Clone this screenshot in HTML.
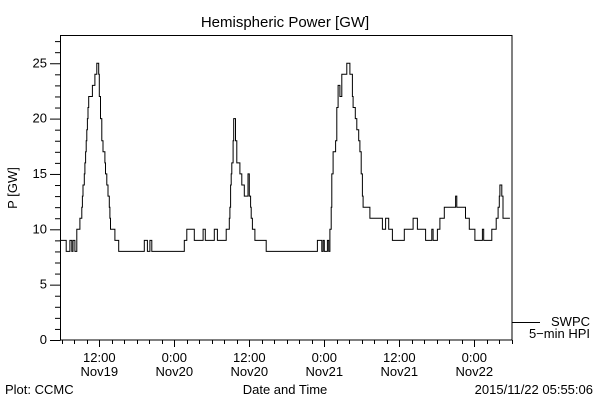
<!DOCTYPE html>
<html><head><meta charset="utf-8"><style>
html,body{margin:0;padding:0;background:#fff;}
svg{display:block;font-family:"Liberation Sans","DejaVu Sans",sans-serif;}
</style></head><body>
<svg id="chart" width="600" height="400" viewBox="0 0 600 400" xmlns="http://www.w3.org/2000/svg">
<rect x="0" y="0" width="600" height="400" fill="#fff"/>
<text x="285" y="27" font-size="15" text-anchor="middle" fill="#000">Hemispheric Power [GW]</text>
<text transform="translate(17,188) rotate(-90)" font-size="13" text-anchor="middle" fill="#000">P [GW]</text>
<g id="yticks"></g>
<g id="xticks"></g>
<rect x="60.5" y="35.5" width="451.5" height="304.5" fill="none" stroke="#000" stroke-width="1"/>
<path id="series" fill="none" stroke="#000" stroke-width="1"/>
<line x1="512" y1="322.5" x2="540" y2="322.5" stroke="#000" stroke-width="1"/>
<text x="590" y="326" font-size="13" text-anchor="end" fill="#000">SWPC</text>
<text x="590" y="338" font-size="13" text-anchor="end" fill="#000">5−min HPI</text>
<text x="285" y="394" font-size="13" text-anchor="middle" fill="#000">Date and Time</text>
<text x="5" y="394" font-size="13" fill="#000">Plot: CCMC</text>
<text x="593" y="394" font-size="13" text-anchor="end" fill="#000">2015/11/22 05:55:06</text>
</svg>
<script>
// hours since Nov19 00:00 (step starts) and power values [GW]
var times = [5.7,6.7,7.3,7.6,7.8,8.1,8.4,8.9,9.2,9.3,9.4,9.6,9.7,9.8,9.9,10.0,10.1,10.2,10.3,10.9,11.3,11.6,11.9,12.0,12.2,12.4,12.6,12.9,13.0,13.2,13.4,13.6,13.7,13.8,14.5,15.1,19.2,19.7,20.1,20.4,25.6,26.0,27.2,28.6,28.96,30.4,30.9,32.3,32.8,32.9,33.0,33.1,33.2,33.4,33.5,33.8,34.0,34.5,34.8,35.2,35.8,36.0,36.2,36.3,36.5,36.9,38.7,46.9,47.6,47.8,48.0,48.5,48.7,48.9,49.1,49.2,49.4,49.8,50.0,50.2,50.5,50.8,51.6,52.1,52.5,52.6,52.96,53.2,53.5,53.7,53.9,54.1,54.2,55.3,57.3,57.8,58.3,58.9,60.8,62.2,62.9,64.2,65.2,65.4,66.1,66.5,67.2,69.0,69.2,70.6,71.2,72.1,73.3,73.5,74.8,75.5,75.8,76.0,76.1,76.4,76.6];
var values = [9,8,9,8,9,8,10,11,12,13,14,15,16,17,18,19,20,21,22,23,24,25,24,22,20,18,17,16,15,14,13,12,11,10,9,8,9,8,9,8,9,10,9,10,9,10,9,10,11,12,14,15,16,18,20,18,16,15,14,13,15,13,12,11,10,9,8,9,8,9,8,9,8,10,12,15,17,18,21,23,22,24,25,24,22,21,20,19,18,17,15,13,12,11,10,11,10,9,10,11,10,9,10,9,10,11,12,13,12,11,10,9,10,9,10,11,12,13,14,13,11];
var endTime = 77.7;
var yTickValues = [0,5,10,15,20,25];
var yTickLabels = ["0","5","10","15","20","25"];
var xMajorHours = [12,24,36,48,60,72];
var xTimeLabels = ["12:00","0:00","12:00","0:00","12:00","0:00"];
var xDateLabels = ["Nov19","Nov20","Nov20","Nov21","Nov21","Nov22"];

function xs(h){return 24.3 + h*6.25;}
function ys(v){return 340 - v*11.07;}
var NS="http://www.w3.org/2000/svg";
function mk(tag,attrs,parent){var e=document.createElementNS(NS,tag);for(var k in attrs)e.setAttribute(k,attrs[k]);parent.appendChild(e);return e;}

var yg=document.getElementById('yticks');
for(var v=0;v<=27;v++){
  var major=v%5===0;
  var t=mk('line',{x1:major?50:55,x2:60.5,y1:ys(v)+0.5,y2:ys(v)+0.5,stroke:'#000','stroke-width':1},yg);
  
  
}
for(var i=0;i<yTickValues.length;i++){
  var l=mk('text',{x:47,y:ys(yTickValues[i])+4,'font-size':13,'text-anchor':'end',fill:'#000'},yg);
  l.textContent=yTickLabels[i];
  
  
}
var xg=document.getElementById('xticks');
for(var h=6;h<=78;h+=2){
  var x=xs(h);
  if(x<60||x>512)continue;
  var mj=h%12===0;
  var t2=mk('line',{x1:Math.round(x)+0.5,x2:Math.round(x)+0.5,y1:340,y2:mj?347:344,stroke:'#000','stroke-width':1},xg);
  
  
}
for(var j=0;j<xMajorHours.length;j++){
  var xx=xs(xMajorHours[j]);
  var a=mk('text',{x:xx,y:362,'font-size':13,'text-anchor':'middle',fill:'#000'},xg);
  a.textContent=xTimeLabels[j];
  
  
  var b=mk('text',{x:xx,y:376,'font-size':13,'text-anchor':'middle',fill:'#000'},xg);
  b.textContent=xDateLabels[j];
  
  
}
var d='';
for(var k=0;k<times.length;k++){
  var x0=xs(times[k]).toFixed(1), y0=ys(values[k]).toFixed(1);
  var x1=xs(k+1<times.length?times[k+1]:endTime).toFixed(1);
  d+=(k===0?'M':'L')+x0+','+y0+'L'+x1+','+y0;
}
document.getElementById('series').setAttribute('d',d);
</script>
</body></html>
